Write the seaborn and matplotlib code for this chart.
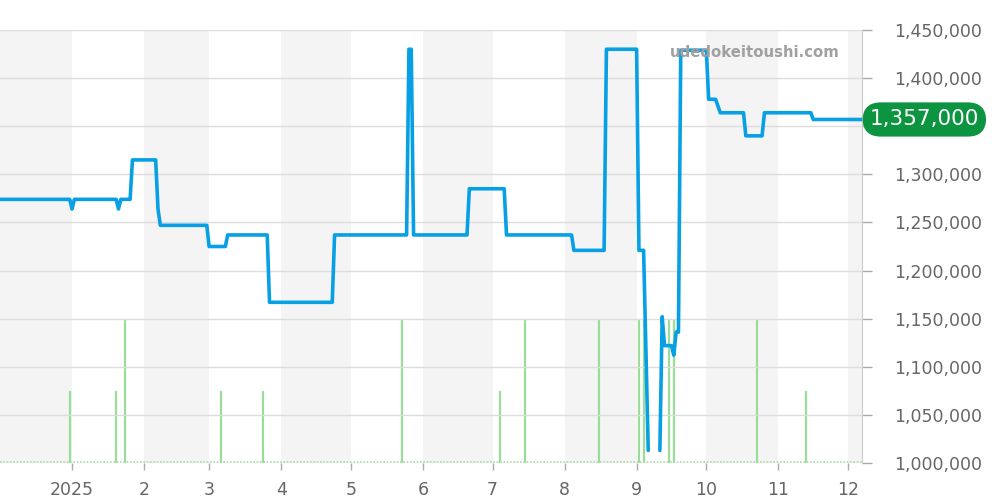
import matplotlib
matplotlib.use("Agg")
import matplotlib.pyplot as plt
import seaborn as sns
import pandas as pd

# Price history (yen), two segments: there is a gap in early September
price_dates_1 = ['2024-12-01', '2024-12-31', '2025-01-01', '2025-01-02', '2025-01-20',
                 '2025-01-21', '2025-01-22', '2025-01-26', '2025-01-27', '2025-02-06',
                 '2025-02-07', '2025-02-08', '2025-02-28', '2025-03-01', '2025-03-08',
                 '2025-03-09', '2025-03-26', '2025-03-27', '2025-04-23', '2025-04-24',
                 '2025-05-25', '2025-05-26', '2025-05-27', '2025-05-28', '2025-06-20',
                 '2025-06-21', '2025-07-06', '2025-07-07', '2025-08-04', '2025-08-05',
                 '2025-08-18', '2025-08-19', '2025-09-01', '2025-09-02', '2025-09-04',
                 '2025-09-06']
price_vals_1 = [1274000, 1274000, 1264000, 1274000, 1274000,
                1264000, 1274000, 1274000, 1315000, 1315000,
                1264000, 1247000, 1247000, 1225000, 1225000,
                1237000, 1237000, 1167000, 1167000, 1237000,
                1237000, 1430000, 1430000, 1237000, 1237000,
                1285000, 1285000, 1237000, 1237000, 1221000,
                1221000, 1430000, 1430000, 1221000, 1221000,
                1013000]
price_dates_2 = ['2025-09-11', '2025-09-12', '2025-09-13', '2025-09-16', '2025-09-17',
                 '2025-09-18', '2025-09-19', '2025-09-20', '2025-10-01', '2025-10-02',
                 '2025-10-05', '2025-10-07', '2025-10-17', '2025-10-18', '2025-10-25',
                 '2025-10-26', '2025-11-15', '2025-11-16', '2025-12-07']
price_vals_2 = [1013000, 1152000, 1122000, 1122000, 1112000,
                1136000, 1136000, 1429000, 1429000, 1378000,
                1378000, 1364000, 1364000, 1340000, 1340000,
                1364000, 1364000, 1357000, 1357000]

# Trade volume
vol_dates = ['2024-12-31', '2025-01-20', '2025-01-24', '2025-03-06', '2025-03-24',
             '2025-05-23', '2025-07-04', '2025-07-15', '2025-08-16', '2025-09-02',
             '2025-09-04', '2025-09-15', '2025-09-17', '2025-10-23', '2025-11-13']
vol_vals = [1, 1, 2, 1, 1, 2, 1, 2, 2, 2, 2, 2, 2, 2, 1]

month_ticks = ['2025-01-01', '2025-02-01', '2025-03-01', '2025-04-01', '2025-05-01',
               '2025-06-01', '2025-07-01', '2025-08-01', '2025-09-01', '2025-10-01',
               '2025-11-01', '2025-12-01']
month_labels = ['2025', '2', '3', '4', '5', '6', '7', '8', '9', '10', '11', '12']
shaded_months = [('2024-12-01', '2025-01-01'), ('2025-02-01', '2025-03-01'),
                 ('2025-04-01', '2025-05-01'), ('2025-06-01', '2025-07-01'),
                 ('2025-08-01', '2025-09-01'), ('2025-10-01', '2025-11-01'),
                 ('2025-12-01', '2025-12-08')]
y_ticks = [1000000, 1050000, 1100000, 1150000, 1200000, 1250000, 1300000, 1350000,
           1400000, 1450000]
last_price = 1357000

df = pd.DataFrame({
    'date': pd.to_datetime(price_dates_1 + price_dates_2),
    'price': price_vals_1 + price_vals_2,
    'seg': [1] * len(price_dates_1) + [2] * len(price_dates_2),
})

sns.set_style("white")
plt.rcParams['font.family'] = ['DejaVu Sans']

fig = plt.figure(figsize=(10, 5), dpi=100)
ax = fig.add_axes([0.0, 0.074, 0.862, 0.866])
axp = ax.twinx()

# month bands
for a, b in shaded_months:
    ax.axvspan(pd.Timestamp(a), pd.Timestamp(b), color='#f4f4f4', lw=0, zorder=0)

# volume bars
ax.vlines(pd.to_datetime(vol_dates), 0, vol_vals, color='#99dd99', lw=1.6, zorder=2)
ax.axhline(0.02, color='#a8dca8', lw=1.2, ls=(0, (1, 1)), zorder=2)
ax.set_ylim(0, 6)
ax.set_yticks([])

# price line
sns.lineplot(data=df, x='date', y='price', units='seg', estimator=None,
             color='#07a0e4', lw=2.6, ax=axp, zorder=5)
axp.set_ylim(1000000, 1450000)
axp.set_yticks(y_ticks)
# the 1,350,000 label sits under the last-price badge
axp.set_yticklabels(['' if v == 1350000 else f'{v:,}' for v in y_ticks])
axp.yaxis.grid(True, color='#dddddd', lw=1)
axp.set_axisbelow(True)
axp.set_xlabel('')
axp.set_ylabel('')

ax.set_xlim(pd.Timestamp('2024-12-01'), pd.Timestamp('2025-12-07'))
ax.set_xticks(pd.to_datetime(month_ticks))
ax.set_xticklabels(month_labels)
ax.tick_params(axis='x', length=5, width=1, color='#aaaaaa', labelsize=12.5,
               labelcolor='#666666', pad=8, bottom=True)
axp.tick_params(axis='y', length=7, width=1, color='#aaaaaa', labelsize=12.5,
                labelcolor='#666666', pad=16, right=True)

for a in (ax, axp):
    for s in ('top', 'left', 'right', 'bottom'):
        a.spines[s].set_visible(False)
axp.spines['right'].set_visible(True)
axp.spines['right'].set_color('#cccccc')

# watermark
axp.text(0.876, 0.947, 'udedokeitoushi.com', transform=axp.transAxes,
         ha='center', va='center', fontsize=10.7, fontweight='bold',
         color='#a0a0a0', zorder=6)

# last price label
axp.annotate(f'{last_price:,}', xy=(1.0, last_price),
             xycoords=('axes fraction', 'data'), xytext=(5.5, 0),
             textcoords='offset points', ha='left', va='center',
             fontsize=15.5, color='white', zorder=10, annotation_clip=False,
             bbox=dict(boxstyle='round,pad=0.33,rounding_size=0.85',
                       fc='#0d9440', ec='none'))

fig.savefig('out.png', dpi=100)
